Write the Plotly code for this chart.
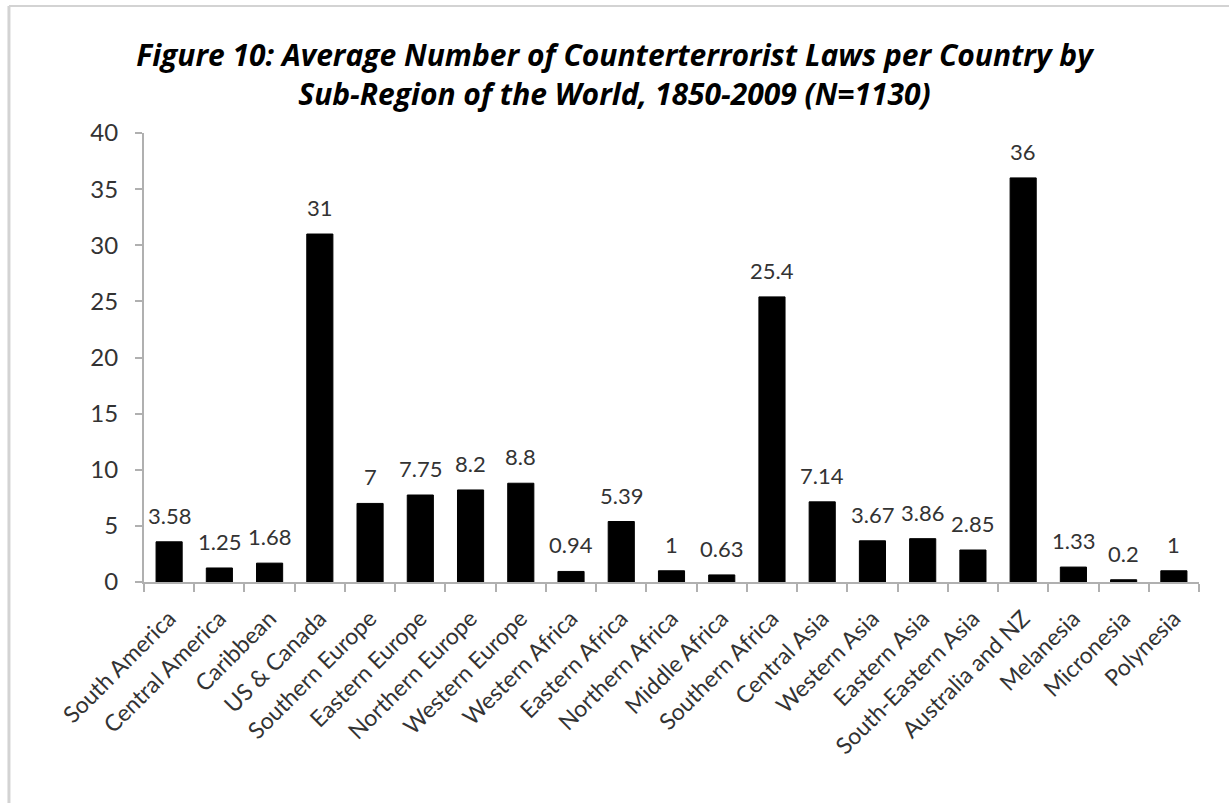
import plotly.graph_objects as go

categories = ["South America", "Central America", "Caribbean", "US & Canada",
              "Southern Europe", "Eastern Europe", "Northern Europe", "Western Europe",
              "Western Africa", "Eastern Africa", "Northern Africa", "Middle Africa",
              "Southern Africa", "Central Asia", "Western Asia", "Eastern Asia",
              "South-Eastern Asia", "Australia and NZ", "Melanesia", "Micronesia", "Polynesia"]
values = [3.58, 1.25, 1.68, 31, 7, 7.75, 8.2, 8.8, 0.94, 5.39, 1, 0.63,
          25.4, 7.14, 3.67, 3.86, 2.85, 36, 1.33, 0.2, 1]
value_labels = ["3.58", "1.25", "1.68", "31", "7", "7.75", "8.2", "8.8", "0.94", "5.39", "1", "0.63",
                "25.4", "7.14", "3.67", "3.86", "2.85", "36", "1.33", "0.2", "1"]
y_ticks = [0, 5, 10, 15, 20, 25, 30, 35, 40]
title_text = ("Figure 10: Average Number of Counterterrorist Laws per Country by<br>"
              "Sub-Region of the World, 1850-2009 (N=1130)")

FONT = "Lato"
TXT = "#333333"
AXIS = "#b0b0b0"

fig = go.Figure()
fig.add_trace(go.Bar(
    x=categories, y=values, width=0.52,
    marker=dict(color="black", line=dict(color="black", width=1)),
    hoverinfo="x+y",
))

annotations = []
for c, v, t in zip(categories, values, value_labels):
    annotations.append(dict(x=c, y=v, xref="x", yref="y", text=t, showarrow=False,
                            yanchor="bottom", yshift=11,
                            font=dict(family=FONT, size=22, color=TXT)))

fig.update_layout(
    width=1229, height=803,
    paper_bgcolor="white", plot_bgcolor="white",
    margin=dict(l=144, r=30, t=133, b=221),
    showlegend=False,
    title=dict(text=title_text, x=0.5, xref="container", xanchor="center",
               y=0.918, yref="container", yanchor="top",
               font=dict(family="Open Sans", size=30, color="black", weight="bold", style="italic")),
    annotations=annotations,
    xaxis=dict(
        type="category", showline=True, linecolor=AXIS, linewidth=2,
        ticks="outside", tickson="boundaries", ticklen=8, tickcolor=AXIS, tickwidth=2,
        tickangle=-45, tickfont=dict(family=FONT, size=23, color=TXT),
        ticklabelstandoff=12,
        showgrid=False, zeroline=False,
    ),
    yaxis=dict(
        range=[0, 40], tickvals=y_ticks, showline=True, linecolor=AXIS, linewidth=2,
        ticks="outside", ticklen=7, tickcolor=AXIS, tickwidth=2,
        tickfont=dict(family=FONT, size=24, color=TXT),
        ticklabelstandoff=12,
        showgrid=False, zeroline=False,
    ),
    shapes=[
        dict(type="line", xref="paper", yref="paper", x0=-0.128, x1=-0.128, y0=1.283, y1=-0.5,
             line=dict(color="#d3d3d3", width=3)),
        dict(type="line", xref="paper", yref="paper", x0=-0.128, x1=1.03, y0=1.283, y1=1.283,
             line=dict(color="#d3d3d3", width=2)),
    ],
)

fig.write_html("out.html", config={"displayModeBar": False},
               post_script="document.body.style.margin='0';")
